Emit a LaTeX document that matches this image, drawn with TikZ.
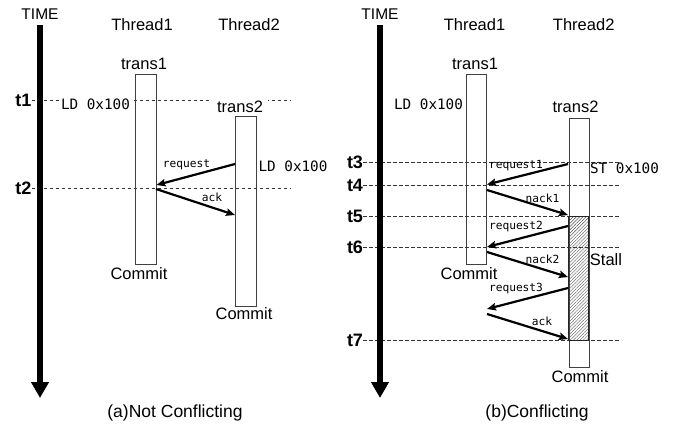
\documentclass[tikz,border=0pt]{standalone}
\usepackage{fontspec}
\setmainfont{Liberation Sans}
\setmonofont{DejaVu Sans Mono}
\usetikzlibrary{arrows.meta,patterns.meta}
\begin{document}
\begin{tikzpicture}[x=1pt,y=-1pt,
  title/.style={font=\fontsize{16.5}{18}\selectfont, inner sep=0pt},
  timelab/.style={font=\fontsize{15.5}{17}\selectfont, inner sep=0pt},
  tlab/.style={font=\bfseries\fontsize{18}{20}\selectfont, inner sep=0pt},
  codelab/.style={font=\ttfamily\fontsize{14.3}{16}\selectfont, inner sep=0pt},
  msglab/.style={font=\ttfamily\fontsize{11.2}{13}\selectfont, inner sep=0pt},
  caplab/.style={font=\fontsize{17.5}{19}\selectfont, inner sep=0pt},
  tbox/.style={draw=black!75, line width=0.9pt, anchor=north west, inner sep=0pt},
  dline/.style={draw=black!80, line width=0.7pt, dash pattern=on 3.5pt off 2.5pt},
  axis/.style={line width=6pt, -{Triangle[length=16pt,width=17pt]}},
  msg/.style={line width=2.2pt, -{Stealth[length=9pt,width=7.5pt,inset=1.5pt]}}
]
\useasboundingbox (0,0) rectangle (674,429);

% ================= (a) Not Conflicting =================
\node[timelab] (timeA) at (40,14) {TIME};
\coordinate (axAtop) at (40,25);
\coordinate (axAbot) at (40,398);

\node[title] (thA1) at (142,25) {Thread1};
\node[title] (thA2) at (249,25) {Thread2};

\node[tlab] (tA1) at (23.5,100.5) {t1};
\node[tlab] (tA2) at (23.5,188.5) {t2};
\coordinate (tA1e) at (290,100.5);
\coordinate (tA2e) at (290,188.5);
\draw[dline] (tA1.east) -- (tA1e);
\draw[dline] (tA2.east) -- (tA2e);

\draw[axis] (axAtop) -- (axAbot);

\node[tbox, minimum width=21pt, minimum height=190pt] (bA1) at (135,74) {};
\node[tbox, minimum width=21pt, minimum height=190pt] (bA2) at (235,116) {};

\node[title] (trA1) at (144,63.5) {trans1};
\node[title, fill=white, inner xsep=5pt, inner ysep=1pt] (trA2) at (240,107) {trans2};
\node[codelab, fill=white, inner xsep=1pt] (ldA1) at (95.5,104) {LD 0x100};
\node[codelab] (ldA2) at (293,166) {LD 0x100};

\node[title] (cmA1) at (139,274) {Commit};
\node[title] (cmA2) at (244,314) {Commit};

\coordinate (reqAs) at (235,164);
\coordinate (reqAe) at (156.5,185);
\coordinate (ackAs) at (156,189);
\coordinate (ackAe) at (235,215);
\draw[msg] (reqAs) -- (reqAe);
\draw[msg] (ackAs) -- (ackAe);
\node[msglab] (lreqA) at (186.5,165) {request};
\node[msglab] (lackA) at (212,197.5) {ack};

\node[caplab] (capA) at (175,413) {(a)Not Conflicting};

% ================= (b) Conflicting =================
\node[timelab] (timeB) at (380,14) {TIME};
\coordinate (axBtop) at (380,25);
\coordinate (axBbot) at (380,398);

\node[title] (thB1) at (474.5,25) {Thread1};
\node[title] (thB2) at (583.7,25) {Thread2};

\node[tlab] (tB3) at (355,162.3) {t3};
\node[tlab] (tB4) at (355,185.7) {t4};
\node[tlab] (tB5) at (355,216.5) {t5};
\node[tlab] (tB6) at (355,247.7) {t6};
\node[tlab] (tB7) at (355,340) {t7};
\coordinate (tB3e) at (620,162.3);
\coordinate (tB4e) at (620,185.7);
\coordinate (tB5e) at (620,216.5);
\coordinate (tB6e) at (620,247.7);
\coordinate (tB7e) at (620,340);
\draw[dline] (tB3.east) -- (tB3e);
\draw[dline] (tB4.east) -- (tB4e);
\draw[dline] (tB5.east) -- (tB5e);
\draw[dline] (tB6.east) -- (tB6e);
\draw[dline] (tB7.east) -- (tB7e);

\draw[axis] (axBtop) -- (axBbot);

\node[tbox, minimum width=20.5pt, minimum height=190pt] (bB1) at (465.5,74) {};
\node[tbox, minimum width=20pt, minimum height=249pt] (bB2) at (568.7,118) {};
\node[tbox, draw=black!85, minimum width=20pt, minimum height=123.5pt,
      pattern={Lines[angle=45,distance=2.3pt,line width=0.45pt]}, pattern color=black!70] (stall) at (568.7,216.5) {};

\node[title] (trB1) at (475,63.5) {trans1};
\node[title] (trB2) at (575.5,107) {trans2};
\node[codelab] (ldB1) at (428.5,104) {LD 0x100};
\node[codelab] (stB2) at (624.5,168.5) {ST 0x100};
\node[title] (stallT) at (606,260) {Stall};

\node[title] (cmB1) at (469,274) {Commit};
\node[title] (cmB2) at (580,377) {Commit};

\coordinate (r1s) at (568,164);
\coordinate (r1e) at (487,184.5);
\coordinate (n1s) at (487,190);
\coordinate (n1e) at (568,215);
\coordinate (r2s) at (568,226);
\coordinate (r2e) at (487,247);
\coordinate (n2s) at (487,252);
\coordinate (n2e) at (568,277);
\coordinate (r3s) at (568,288);
\coordinate (r3e) at (487,309);
\coordinate (a3s) at (487,314);
\coordinate (a3e) at (568,339);
\draw[msg] (r1s) -- (r1e);
\draw[msg] (n1s) -- (n1e);
\draw[msg] (r2s) -- (r2e);
\draw[msg] (n2s) -- (n2e);
\draw[msg] (r3s) -- (r3e);
\draw[msg] (a3s) -- (a3e);
\node[msglab] (lr1) at (516,165.5) {request1};
\node[msglab] (ln1) at (542.5,198) {nack1};
\node[msglab] (lr2) at (516,227) {request2};
\node[msglab] (ln2) at (542.5,259.5) {nack2};
\node[msglab] (lr3) at (516,289) {request3};
\node[msglab] (la3) at (542,321) {ack};

\node[caplab] (capB) at (537,413) {(b)Conflicting};
\end{tikzpicture}
\end{document}
